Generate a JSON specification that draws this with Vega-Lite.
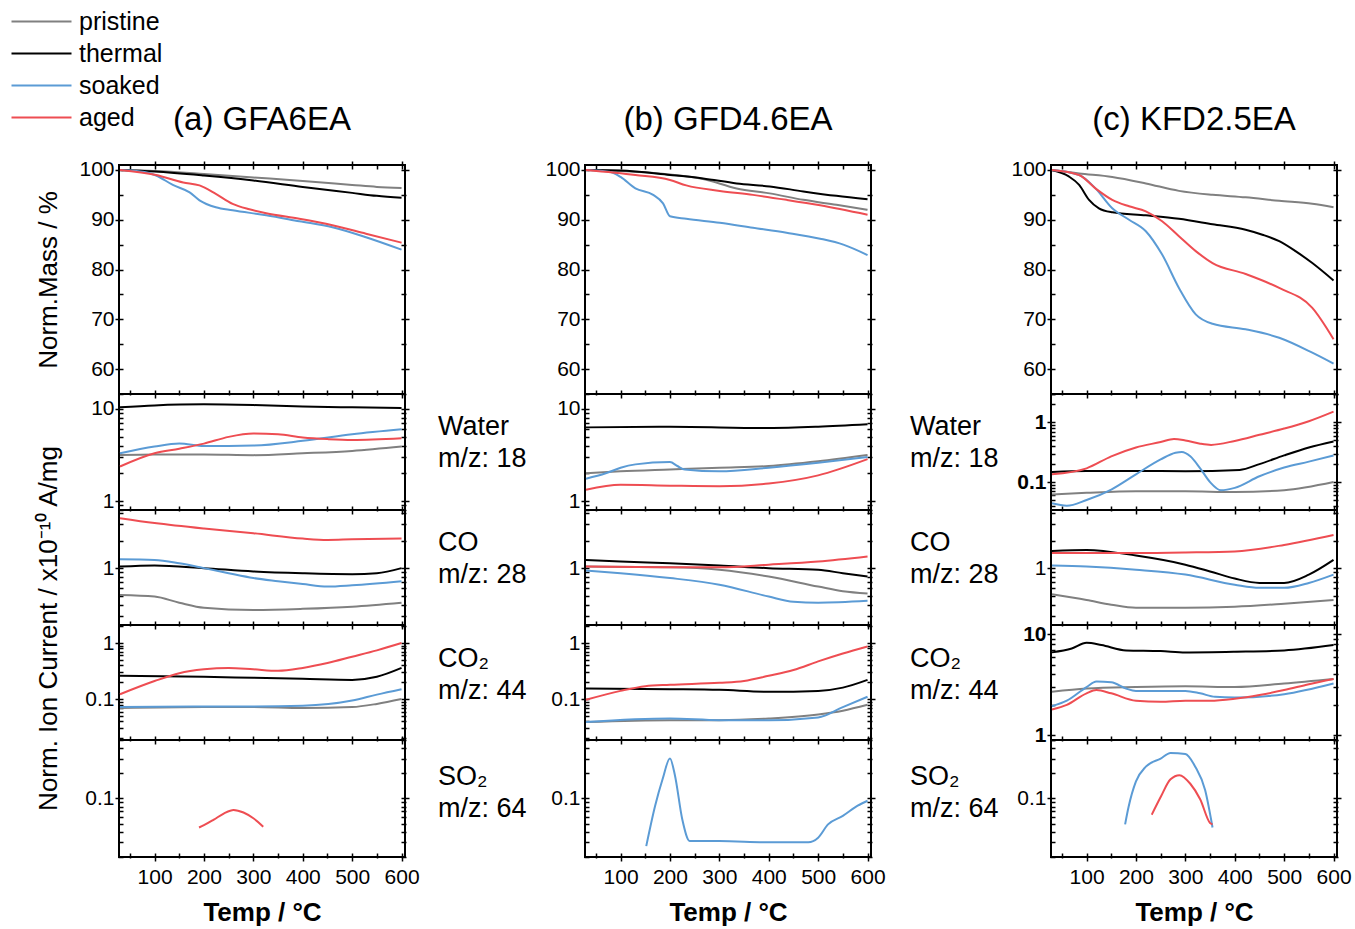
{
"$schema": "https://vega.github.io/schema/vega-lite/v6.json",
"background": "white",
"padding": {"left": 28, "top": 8, "right": 0, "bottom": 0},
"config": {
  "font": "Liberation Sans",
  "view": {"stroke": "black", "strokeWidth": 2},
  "axis": {"grid": false, "domain": false, "tickColor": "black", "tickWidth": 1.5, "labelColor": "black", "labelFontSize": 21, "titleColor": "black", "labelFont": "Liberation Sans", "titleFont": "Liberation Sans"},
  "title": {"font": "Liberation Sans", "color": "black"}
},
"datasets": {
"a_m": [
{"s":"pristine","t":30,"v":100},{"s":"pristine","t":100,"v":99.8},{"s":"pristine","t":200,"v":99.2},{"s":"pristine","t":300,"v":98.5},{"s":"pristine","t":400,"v":97.8},{"s":"pristine","t":500,"v":97.0},{"s":"pristine","t":550,"v":96.6},{"s":"pristine","t":600,"v":96.4},
{"s":"thermal","t":30,"v":100},{"s":"thermal","t":100,"v":99.7},{"s":"thermal","t":200,"v":98.9},{"s":"thermal","t":300,"v":97.9},{"s":"thermal","t":400,"v":96.6},{"s":"thermal","t":500,"v":95.4},{"s":"thermal","t":550,"v":94.8},{"s":"thermal","t":600,"v":94.4},
{"s":"soaked","t":30,"v":100},{"s":"soaked","t":80,"v":99.6},{"s":"soaked","t":103,"v":98.9},{"s":"soaked","t":137,"v":97.0},{"s":"soaked","t":171,"v":95.5},{"s":"soaked","t":191,"v":93.9},{"s":"soaked","t":224,"v":92.5},{"s":"soaked","t":258,"v":91.9},{"s":"soaked","t":326,"v":90.9},{"s":"soaked","t":393,"v":89.7},{"s":"soaked","t":460,"v":88.5},{"s":"soaked","t":528,"v":86.5},{"s":"soaked","t":600,"v":84.0},
{"s":"aged","t":30,"v":100},{"s":"aged","t":103,"v":99.0},{"s":"aged","t":158,"v":97.5},{"s":"aged","t":191,"v":96.9},{"s":"aged","t":224,"v":95.2},{"s":"aged","t":258,"v":93.2},{"s":"aged","t":292,"v":92.1},{"s":"aged","t":326,"v":91.3},{"s":"aged","t":393,"v":90.2},{"s":"aged","t":460,"v":88.9},{"s":"aged","t":528,"v":87.2},{"s":"aged","t":600,"v":85.4}
],
"b_m": [
{"s":"pristine","t":30,"v":100},{"s":"pristine","t":100,"v":99.8},{"s":"pristine","t":200,"v":99.1},{"s":"pristine","t":267,"v":98.2},{"s":"pristine","t":335,"v":96.3},{"s":"pristine","t":402,"v":95.3},{"s":"pristine","t":470,"v":94.0},{"s":"pristine","t":537,"v":93.0},{"s":"pristine","t":600,"v":92.0},
{"s":"thermal","t":30,"v":100},{"s":"thermal","t":99,"v":99.9},{"s":"thermal","t":200,"v":99.0},{"s":"thermal","t":267,"v":98.3},{"s":"thermal","t":335,"v":97.3},{"s":"thermal","t":402,"v":96.7},{"s":"thermal","t":470,"v":95.7},{"s":"thermal","t":537,"v":94.8},{"s":"thermal","t":600,"v":94.1},
{"s":"soaked","t":30,"v":100},{"s":"soaked","t":80,"v":99.6},{"s":"soaked","t":100,"v":98.6},{"s":"soaked","t":130,"v":96.3},{"s":"soaked","t":166,"v":95.0},{"s":"soaked","t":186,"v":93.3},{"s":"soaked","t":200,"v":90.7},{"s":"soaked","t":233,"v":90.2},{"s":"soaked","t":301,"v":89.4},{"s":"soaked","t":368,"v":88.4},{"s":"soaked","t":436,"v":87.4},{"s":"soaked","t":504,"v":86.2},{"s":"soaked","t":551,"v":85.0},{"s":"soaked","t":600,"v":82.9},
{"s":"aged","t":30,"v":100},{"s":"aged","t":130,"v":99.0},{"s":"aged","t":200,"v":98.0},{"s":"aged","t":233,"v":96.9},{"s":"aged","t":301,"v":95.8},{"s":"aged","t":368,"v":95.0},{"s":"aged","t":436,"v":94.0},{"s":"aged","t":504,"v":92.9},{"s":"aged","t":600,"v":91.0}
],
"c_m": [
{"s":"pristine","t":30,"v":100},{"s":"pristine","t":85,"v":99.3},{"s":"pristine","t":152,"v":98.6},{"s":"pristine","t":220,"v":97.3},{"s":"pristine","t":287,"v":95.8},{"s":"pristine","t":355,"v":95.0},{"s":"pristine","t":422,"v":94.5},{"s":"pristine","t":490,"v":93.8},{"s":"pristine","t":557,"v":93.2},{"s":"pristine","t":600,"v":92.5},
{"s":"thermal","t":30,"v":100},{"s":"thermal","t":64,"v":98.7},{"s":"thermal","t":85,"v":97.0},{"s":"thermal","t":105,"v":94.0},{"s":"thermal","t":125,"v":92.3},{"s":"thermal","t":152,"v":91.5},{"s":"thermal","t":220,"v":90.9},{"s":"thermal","t":287,"v":90.2},{"s":"thermal","t":355,"v":89.1},{"s":"thermal","t":422,"v":88.0},{"s":"thermal","t":456,"v":87.0},{"s":"thermal","t":490,"v":85.7},{"s":"thermal","t":523,"v":83.7},{"s":"thermal","t":557,"v":81.3},{"s":"thermal","t":600,"v":77.8},
{"s":"soaked","t":30,"v":100},{"s":"soaked","t":85,"v":99.0},{"s":"soaked","t":118,"v":96.3},{"s":"soaked","t":152,"v":92.3},{"s":"soaked","t":186,"v":90.0},{"s":"soaked","t":220,"v":87.7},{"s":"soaked","t":253,"v":83.0},{"s":"soaked","t":287,"v":76.3},{"s":"soaked","t":321,"v":71.0},{"s":"soaked","t":355,"v":69.1},{"s":"soaked","t":422,"v":68.0},{"s":"soaked","t":490,"v":66.3},{"s":"soaked","t":557,"v":63.3},{"s":"soaked","t":600,"v":61.1},
{"s":"aged","t":30,"v":100},{"s":"aged","t":85,"v":99.0},{"s":"aged","t":118,"v":96.3},{"s":"aged","t":152,"v":94.0},{"s":"aged","t":186,"v":92.7},{"s":"aged","t":220,"v":91.7},{"s":"aged","t":253,"v":89.7},{"s":"aged","t":287,"v":86.7},{"s":"aged","t":321,"v":83.7},{"s":"aged","t":355,"v":81.3},{"s":"aged","t":422,"v":79.1},{"s":"aged","t":490,"v":76.3},{"s":"aged","t":557,"v":72.3},{"s":"aged","t":600,"v":66.0}
],
"a_w": [
{"s":"thermal","t":30,"v":10.4},{"s":"thermal","t":100,"v":10.9},{"s":"thermal","t":200,"v":11.2},{"s":"thermal","t":300,"v":11.0},{"s":"thermal","t":400,"v":10.6},{"s":"thermal","t":500,"v":10.4},{"s":"thermal","t":600,"v":10.2},
{"s":"pristine","t":30,"v":3.16},{"s":"pristine","t":100,"v":3.2},{"s":"pristine","t":200,"v":3.2},{"s":"pristine","t":300,"v":3.15},{"s":"pristine","t":400,"v":3.3},{"s":"pristine","t":500,"v":3.5},{"s":"pristine","t":600,"v":3.9},
{"s":"soaked","t":30,"v":3.3},{"s":"soaked","t":100,"v":3.9},{"s":"soaked","t":150,"v":4.2},{"s":"soaked","t":200,"v":3.95},{"s":"soaked","t":300,"v":4.0},{"s":"soaked","t":400,"v":4.5},{"s":"soaked","t":500,"v":5.3},{"s":"soaked","t":600,"v":6.0},
{"s":"aged","t":30,"v":2.37},{"s":"aged","t":100,"v":3.3},{"s":"aged","t":150,"v":3.7},{"s":"aged","t":200,"v":4.2},{"s":"aged","t":250,"v":4.97},{"s":"aged","t":300,"v":5.4},{"s":"aged","t":350,"v":5.3},{"s":"aged","t":400,"v":4.9},{"s":"aged","t":450,"v":4.7},{"s":"aged","t":500,"v":4.6},{"s":"aged","t":600,"v":4.8}
],
"b_w": [
{"s":"thermal","t":30,"v":6.3},{"s":"thermal","t":200,"v":6.4},{"s":"thermal","t":400,"v":6.2},{"s":"thermal","t":500,"v":6.4},{"s":"thermal","t":600,"v":6.8},
{"s":"pristine","t":30,"v":2.0},{"s":"pristine","t":100,"v":2.1},{"s":"pristine","t":200,"v":2.2},{"s":"pristine","t":300,"v":2.3},{"s":"pristine","t":400,"v":2.4},{"s":"pristine","t":500,"v":2.7},{"s":"pristine","t":600,"v":3.16},
{"s":"soaked","t":30,"v":1.75},{"s":"soaked","t":70,"v":2.0},{"s":"soaked","t":100,"v":2.3},{"s":"soaked","t":130,"v":2.5},{"s":"soaked","t":200,"v":2.65},{"s":"soaked","t":215,"v":2.4},{"s":"soaked","t":230,"v":2.2},{"s":"soaked","t":300,"v":2.1},{"s":"soaked","t":400,"v":2.3},{"s":"soaked","t":500,"v":2.6},{"s":"soaked","t":600,"v":3.0},
{"s":"aged","t":30,"v":1.33},{"s":"aged","t":100,"v":1.5},{"s":"aged","t":200,"v":1.47},{"s":"aged","t":300,"v":1.45},{"s":"aged","t":400,"v":1.55},{"s":"aged","t":500,"v":1.9},{"s":"aged","t":600,"v":2.85}
],
"c_w": [
{"s":"thermal","t":30,"v":0.148},{"s":"thermal","t":100,"v":0.154},{"s":"thermal","t":200,"v":0.154},{"s":"thermal","t":300,"v":0.152},{"s":"thermal","t":410,"v":0.16},{"s":"thermal","t":450,"v":0.2},{"s":"thermal","t":500,"v":0.28},{"s":"thermal","t":550,"v":0.38},{"s":"thermal","t":600,"v":0.48},
{"s":"pristine","t":30,"v":0.062},{"s":"pristine","t":100,"v":0.066},{"s":"pristine","t":200,"v":0.07},{"s":"pristine","t":300,"v":0.07},{"s":"pristine","t":400,"v":0.068},{"s":"pristine","t":500,"v":0.073},{"s":"pristine","t":600,"v":0.1},
{"s":"soaked","t":30,"v":0.044},{"s":"soaked","t":60,"v":0.04},{"s":"soaked","t":100,"v":0.05},{"s":"soaked","t":150,"v":0.075},{"s":"soaked","t":200,"v":0.135},{"s":"soaked","t":250,"v":0.24},{"s":"soaked","t":280,"v":0.31},{"s":"soaked","t":293,"v":0.32},{"s":"soaked","t":310,"v":0.27},{"s":"soaked","t":330,"v":0.17},{"s":"soaked","t":350,"v":0.1},{"s":"soaked","t":372,"v":0.073},{"s":"soaked","t":400,"v":0.08},{"s":"soaked","t":450,"v":0.125},{"s":"soaked","t":500,"v":0.175},{"s":"soaked","t":550,"v":0.22},{"s":"soaked","t":600,"v":0.28},
{"s":"aged","t":30,"v":0.135},{"s":"aged","t":100,"v":0.17},{"s":"aged","t":150,"v":0.27},{"s":"aged","t":200,"v":0.38},{"s":"aged","t":250,"v":0.47},{"s":"aged","t":277,"v":0.53},{"s":"aged","t":300,"v":0.5},{"s":"aged","t":330,"v":0.44},{"s":"aged","t":352,"v":0.42},{"s":"aged","t":400,"v":0.49},{"s":"aged","t":450,"v":0.62},{"s":"aged","t":500,"v":0.79},{"s":"aged","t":550,"v":1.05},{"s":"aged","t":600,"v":1.52}
],
"a_co": [
{"s":"aged","t":30,"v":3.5},{"s":"aged","t":100,"v":3.1},{"s":"aged","t":200,"v":2.7},{"s":"aged","t":300,"v":2.4},{"s":"aged","t":400,"v":2.1},{"s":"aged","t":450,"v":2.03},{"s":"aged","t":500,"v":2.06},{"s":"aged","t":600,"v":2.1},
{"s":"soaked","t":30,"v":1.25},{"s":"soaked","t":100,"v":1.23},{"s":"soaked","t":150,"v":1.13},{"s":"soaked","t":200,"v":1.0},{"s":"soaked","t":250,"v":0.88},{"s":"soaked","t":300,"v":0.78},{"s":"soaked","t":350,"v":0.72},{"s":"soaked","t":400,"v":0.67},{"s":"soaked","t":450,"v":0.63},{"s":"soaked","t":500,"v":0.65},{"s":"soaked","t":600,"v":0.72},
{"s":"thermal","t":30,"v":1.04},{"s":"thermal","t":100,"v":1.07},{"s":"thermal","t":200,"v":1.0},{"s":"thermal","t":300,"v":0.92},{"s":"thermal","t":400,"v":0.88},{"s":"thermal","t":500,"v":0.86},{"s":"thermal","t":550,"v":0.88},{"s":"thermal","t":600,"v":1.0},
{"s":"pristine","t":30,"v":0.51},{"s":"pristine","t":100,"v":0.49},{"s":"pristine","t":150,"v":0.42},{"s":"pristine","t":200,"v":0.37},{"s":"pristine","t":300,"v":0.35},{"s":"pristine","t":400,"v":0.36},{"s":"pristine","t":500,"v":0.38},{"s":"pristine","t":600,"v":0.42}
],
"b_co": [
{"s":"thermal","t":30,"v":1.23},{"s":"thermal","t":100,"v":1.18},{"s":"thermal","t":200,"v":1.13},{"s":"thermal","t":300,"v":1.07},{"s":"thermal","t":400,"v":1.0},{"s":"thermal","t":500,"v":0.96},{"s":"thermal","t":550,"v":0.88},{"s":"thermal","t":600,"v":0.81},
{"s":"aged","t":30,"v":1.04},{"s":"aged","t":200,"v":1.02},{"s":"aged","t":300,"v":1.02},{"s":"aged","t":400,"v":1.09},{"s":"aged","t":500,"v":1.18},{"s":"aged","t":600,"v":1.34},
{"s":"pristine","t":30,"v":1.04},{"s":"pristine","t":200,"v":1.02},{"s":"pristine","t":300,"v":0.96},{"s":"pristine","t":400,"v":0.81},{"s":"pristine","t":500,"v":0.63},{"s":"pristine","t":550,"v":0.56},{"s":"pristine","t":600,"v":0.53},
{"s":"soaked","t":30,"v":0.94},{"s":"soaked","t":100,"v":0.88},{"s":"soaked","t":200,"v":0.78},{"s":"soaked","t":300,"v":0.66},{"s":"soaked","t":400,"v":0.49},{"s":"soaked","t":450,"v":0.43},{"s":"soaked","t":500,"v":0.42},{"s":"soaked","t":600,"v":0.44}
],
"c_co": [
{"s":"aged","t":30,"v":1.46},{"s":"aged","t":200,"v":1.46},{"s":"aged","t":300,"v":1.48},{"s":"aged","t":400,"v":1.52},{"s":"aged","t":500,"v":1.79},{"s":"aged","t":600,"v":2.3},
{"s":"thermal","t":30,"v":1.54},{"s":"thermal","t":100,"v":1.58},{"s":"thermal","t":200,"v":1.37},{"s":"thermal","t":300,"v":1.09},{"s":"thermal","t":350,"v":0.92},{"s":"thermal","t":400,"v":0.77},{"s":"thermal","t":450,"v":0.69},{"s":"thermal","t":500,"v":0.69},{"s":"thermal","t":550,"v":0.85},{"s":"thermal","t":600,"v":1.23},
{"s":"soaked","t":30,"v":1.07},{"s":"soaked","t":100,"v":1.04},{"s":"soaked","t":200,"v":0.96},{"s":"soaked","t":300,"v":0.85},{"s":"soaked","t":400,"v":0.66},{"s":"soaked","t":450,"v":0.61},{"s":"soaked","t":500,"v":0.61},{"s":"soaked","t":550,"v":0.69},{"s":"soaked","t":600,"v":0.85},
{"s":"pristine","t":30,"v":0.52},{"s":"pristine","t":100,"v":0.45},{"s":"pristine","t":150,"v":0.4},{"s":"pristine","t":200,"v":0.37},{"s":"pristine","t":300,"v":0.37},{"s":"pristine","t":400,"v":0.38},{"s":"pristine","t":500,"v":0.41},{"s":"pristine","t":600,"v":0.45}
],
"a_co2": [
{"s":"aged","t":30,"v":0.122},{"s":"aged","t":100,"v":0.21},{"s":"aged","t":150,"v":0.29},{"s":"aged","t":200,"v":0.34},{"s":"aged","t":250,"v":0.36},{"s":"aged","t":300,"v":0.34},{"s":"aged","t":350,"v":0.32},{"s":"aged","t":400,"v":0.36},{"s":"aged","t":450,"v":0.44},{"s":"aged","t":500,"v":0.57},{"s":"aged","t":550,"v":0.74},{"s":"aged","t":600,"v":1.0},
{"s":"thermal","t":30,"v":0.26},{"s":"thermal","t":200,"v":0.25},{"s":"thermal","t":300,"v":0.24},{"s":"thermal","t":400,"v":0.23},{"s":"thermal","t":500,"v":0.22},{"s":"thermal","t":550,"v":0.25},{"s":"thermal","t":600,"v":0.36},
{"s":"soaked","t":30,"v":0.072},{"s":"soaked","t":200,"v":0.074},{"s":"soaked","t":300,"v":0.074},{"s":"soaked","t":400,"v":0.076},{"s":"soaked","t":500,"v":0.094},{"s":"soaked","t":550,"v":0.12},{"s":"soaked","t":600,"v":0.15},
{"s":"pristine","t":30,"v":0.069},{"s":"pristine","t":200,"v":0.072},{"s":"pristine","t":300,"v":0.072},{"s":"pristine","t":400,"v":0.069},{"s":"pristine","t":500,"v":0.072},{"s":"pristine","t":550,"v":0.082},{"s":"pristine","t":600,"v":0.1}
],
"b_co2": [
{"s":"aged","t":30,"v":0.097},{"s":"aged","t":100,"v":0.14},{"s":"aged","t":150,"v":0.17},{"s":"aged","t":200,"v":0.18},{"s":"aged","t":300,"v":0.195},{"s":"aged","t":350,"v":0.21},{"s":"aged","t":400,"v":0.26},{"s":"aged","t":450,"v":0.33},{"s":"aged","t":500,"v":0.47},{"s":"aged","t":550,"v":0.65},{"s":"aged","t":600,"v":0.87},
{"s":"thermal","t":30,"v":0.154},{"s":"thermal","t":200,"v":0.15},{"s":"thermal","t":300,"v":0.146},{"s":"thermal","t":400,"v":0.135},{"s":"thermal","t":500,"v":0.14},{"s":"thermal","t":550,"v":0.16},{"s":"thermal","t":600,"v":0.22},
{"s":"pristine","t":30,"v":0.039},{"s":"pristine","t":200,"v":0.042},{"s":"pristine","t":300,"v":0.042},{"s":"pristine","t":400,"v":0.045},{"s":"pristine","t":500,"v":0.053},{"s":"pristine","t":550,"v":0.062},{"s":"pristine","t":600,"v":0.079},
{"s":"soaked","t":30,"v":0.039},{"s":"soaked","t":200,"v":0.045},{"s":"soaked","t":300,"v":0.042},{"s":"soaked","t":400,"v":0.042},{"s":"soaked","t":500,"v":0.047},{"s":"soaked","t":550,"v":0.072},{"s":"soaked","t":600,"v":0.11}
],
"c_co2": [
{"s":"thermal","t":30,"v":6.6},{"s":"thermal","t":70,"v":7.2},{"s":"thermal","t":100,"v":8.2},{"s":"thermal","t":130,"v":7.8},{"s":"thermal","t":180,"v":6.9},{"s":"thermal","t":250,"v":6.8},{"s":"thermal","t":300,"v":6.6},{"s":"thermal","t":400,"v":6.7},{"s":"thermal","t":500,"v":6.9},{"s":"thermal","t":600,"v":7.8},
{"s":"pristine","t":30,"v":2.7},{"s":"pristine","t":100,"v":2.9},{"s":"pristine","t":200,"v":3.0},{"s":"pristine","t":300,"v":3.05},{"s":"pristine","t":400,"v":3.0},{"s":"pristine","t":500,"v":3.25},{"s":"pristine","t":600,"v":3.6},
{"s":"soaked","t":30,"v":1.94},{"s":"soaked","t":60,"v":2.2},{"s":"soaked","t":100,"v":3.0},{"s":"soaked","t":120,"v":3.4},{"s":"soaked","t":150,"v":3.35},{"s":"soaked","t":180,"v":2.9},{"s":"soaked","t":200,"v":2.75},{"s":"soaked","t":250,"v":2.75},{"s":"soaked","t":300,"v":2.75},{"s":"soaked","t":330,"v":2.6},{"s":"soaked","t":360,"v":2.4},{"s":"soaked","t":400,"v":2.36},{"s":"soaked","t":500,"v":2.55},{"s":"soaked","t":600,"v":3.25},
{"s":"aged","t":30,"v":1.8},{"s":"aged","t":60,"v":2.0},{"s":"aged","t":100,"v":2.6},{"s":"aged","t":120,"v":2.8},{"s":"aged","t":150,"v":2.6},{"s":"aged","t":200,"v":2.2},{"s":"aged","t":250,"v":2.15},{"s":"aged","t":300,"v":2.2},{"s":"aged","t":350,"v":2.2},{"s":"aged","t":400,"v":2.3},{"s":"aged","t":450,"v":2.5},{"s":"aged","t":500,"v":2.8},{"s":"aged","t":550,"v":3.2},{"s":"aged","t":600,"v":3.6}
],
"a_so2": [
{"s":"aged","t":190,"v":0.045},{"s":"aged","t":200,"v":0.048},{"s":"aged","t":220,"v":0.056},{"s":"aged","t":240,"v":0.066},{"s":"aged","t":260,"v":0.073},{"s":"aged","t":280,"v":0.068},{"s":"aged","t":300,"v":0.058},{"s":"aged","t":320,"v":0.046}
],
"b_so2": [
{"s":"soaked","t":152,"v":0.027},{"s":"soaked","t":170,"v":0.082},{"s":"soaked","t":185,"v":0.17},{"s":"soaked","t":200,"v":0.3},{"s":"soaked","t":210,"v":0.19},{"s":"soaked","t":225,"v":0.056},{"s":"soaked","t":240,"v":0.031},{"s":"soaked","t":300,"v":0.031},{"s":"soaked","t":400,"v":0.03},{"s":"soaked","t":480,"v":0.03},{"s":"soaked","t":500,"v":0.034},{"s":"soaked","t":520,"v":0.049},{"s":"soaked","t":550,"v":0.062},{"s":"soaked","t":580,"v":0.082},{"s":"soaked","t":600,"v":0.094}
],
"c_so2": [
{"s":"soaked","t":178,"v":0.049},{"s":"soaked","t":185,"v":0.079},{"s":"soaked","t":200,"v":0.16},{"s":"soaked","t":220,"v":0.24},{"s":"soaked","t":250,"v":0.3},{"s":"soaked","t":270,"v":0.35},{"s":"soaked","t":300,"v":0.34},{"s":"soaked","t":320,"v":0.24},{"s":"soaked","t":340,"v":0.126},{"s":"soaked","t":355,"v":0.045},
{"s":"aged","t":232,"v":0.064},{"s":"aged","t":250,"v":0.104},{"s":"aged","t":270,"v":0.17},{"s":"aged","t":288,"v":0.19},{"s":"aged","t":310,"v":0.15},{"s":"aged","t":330,"v":0.098},{"s":"aged","t":350,"v":0.051},{"s":"aged","t":355,"v":0.049}
]
},
"columns": 3,
"spacing": {"row": 0, "column": 180},
"bounds": "flush",
"resolve": {"scale": {"x": "independent", "y": "independent", "color": "independent"}, "legend": {"color": "independent"}},
"concat": [
{"width": 286, "height": 229, "data": {"name": "a_m"},
 "title": {"text": "(a) GFA6EA", "fontSize": 33, "fontWeight": "normal", "frame": "group", "anchor": "middle", "baseline": "alphabetic", "offset": -4},
 "layer": [
  {"transform": [{"filter": "datum.s=='pristine'||datum.s=='thermal'"}], "mark": {"type": "line", "strokeWidth": 2, "interpolate": "monotone"},
   "encoding": {
    "x": {"field": "t", "type": "quantitative", "scale": {"domain": [28, 607], "nice": false, "zero": false}, "axis": {"orient": "bottom", "values": [50,100,150,200,250,300,350,400,450,500,550,600], "labels": false, "title": null, "offset": -4, "tickSize": {"condition": {"test": "datum.value % 100 == 0", "value": 8}, "value": 5}}},
    "y": {"field": "v", "type": "quantitative", "scale": {"domain": [55, 101], "nice": false, "zero": false}, "axis": {"orient": "left", "values": [55,60,65,70,75,80,85,90,95,100], "format": "d", "labelExpr": "datum.value % 10 == 0 ? datum.label : ''", "labelPadding": 1, "offset": -4, "tickSize": {"condition": {"test": "datum.value % 10 == 0", "value": 8}, "value": 5}, "title": "Norm.Mass / %", "titleFontSize": 26, "titleFontWeight": "normal", "titleX": -75, "titleBaseline": "middle"}},
    "color": {"field": "s", "type": "nominal", "scale": {"domain": ["pristine","thermal","soaked","aged"], "range": ["#808080","#000000","#5b9bd5","#ee4d52"]}, "legend": null}}},
  {"transform": [{"filter": "datum.s=='soaked'||datum.s=='aged'"}], "mark": {"type": "line", "strokeWidth": 2, "interpolate": "monotone"},
   "encoding": {
    "x": {"field": "t", "type": "quantitative", "axis": {"orient": "top", "values": [50,100,150,200,250,300,350,400,450,500,550,600], "labels": false, "title": null, "offset": -4, "tickSize": {"condition": {"test": "datum.value % 100 == 0", "value": 8}, "value": 5}}},
    "y": {"field": "v", "type": "quantitative", "axis": {"orient": "right", "values": [55,60,65,70,75,80,85,90,95,100], "labels": false, "title": null, "offset": -4, "tickSize": {"condition": {"test": "datum.value % 10 == 0", "value": 8}, "value": 5}}},
    "color": {"field": "s", "type": "nominal", "scale": {"domain": ["pristine","thermal","soaked","aged"], "range": ["#808080","#000000","#5b9bd5","#ee4d52"]}, "legend": null}}}
 ],
 "resolve": {"axis": {"x": "independent", "y": "independent"}}},
{"width": 286, "height": 229, "data": {"name": "b_m"},
 "title": {"text": "(b) GFD4.6EA", "fontSize": 33, "fontWeight": "normal", "frame": "group", "anchor": "middle", "baseline": "alphabetic", "offset": -4},
 "layer": [
  {"transform": [{"filter": "datum.s=='pristine'||datum.s=='thermal'"}], "mark": {"type": "line", "strokeWidth": 2, "interpolate": "monotone"},
   "encoding": {
    "x": {"field": "t", "type": "quantitative", "scale": {"domain": [28, 607], "nice": false, "zero": false}, "axis": {"orient": "bottom", "values": [50,100,150,200,250,300,350,400,450,500,550,600], "labels": false, "title": null, "offset": -4, "tickSize": {"condition": {"test": "datum.value % 100 == 0", "value": 8}, "value": 5}}},
    "y": {"field": "v", "type": "quantitative", "scale": {"domain": [55, 101], "nice": false, "zero": false}, "axis": {"orient": "left", "values": [55,60,65,70,75,80,85,90,95,100], "format": "d", "labelExpr": "datum.value % 10 == 0 ? datum.label : ''", "labelPadding": 1, "offset": -4, "tickSize": {"condition": {"test": "datum.value % 10 == 0", "value": 8}, "value": 5}, "title": null}},
    "color": {"field": "s", "type": "nominal", "scale": {"domain": ["pristine","thermal","soaked","aged"], "range": ["#808080","#000000","#5b9bd5","#ee4d52"]}, "legend": null}}},
  {"transform": [{"filter": "datum.s=='soaked'||datum.s=='aged'"}], "mark": {"type": "line", "strokeWidth": 2, "interpolate": "monotone"},
   "encoding": {
    "x": {"field": "t", "type": "quantitative", "axis": {"orient": "top", "values": [50,100,150,200,250,300,350,400,450,500,550,600], "labels": false, "title": null, "offset": -4, "tickSize": {"condition": {"test": "datum.value % 100 == 0", "value": 8}, "value": 5}}},
    "y": {"field": "v", "type": "quantitative", "axis": {"orient": "right", "values": [55,60,65,70,75,80,85,90,95,100], "labels": false, "title": null, "offset": -4, "tickSize": {"condition": {"test": "datum.value % 10 == 0", "value": 8}, "value": 5}}},
    "color": {"field": "s", "type": "nominal", "scale": {"domain": ["pristine","thermal","soaked","aged"], "range": ["#808080","#000000","#5b9bd5","#ee4d52"]}, "legend": null}}}
 ],
 "resolve": {"axis": {"x": "independent", "y": "independent"}}},
{"width": 286, "height": 229, "data": {"name": "c_m"},
 "title": {"text": "(c) KFD2.5EA", "fontSize": 33, "fontWeight": "normal", "frame": "group", "anchor": "middle", "baseline": "alphabetic", "offset": -4},
 "layer": [
  {"transform": [{"filter": "datum.s=='pristine'||datum.s=='thermal'"}], "mark": {"type": "line", "strokeWidth": 2, "interpolate": "monotone"},
   "encoding": {
    "x": {"field": "t", "type": "quantitative", "scale": {"domain": [28, 607], "nice": false, "zero": false}, "axis": {"orient": "bottom", "values": [50,100,150,200,250,300,350,400,450,500,550,600], "labels": false, "title": null, "offset": -4, "tickSize": {"condition": {"test": "datum.value % 100 == 0", "value": 8}, "value": 5}}},
    "y": {"field": "v", "type": "quantitative", "scale": {"domain": [55, 101], "nice": false, "zero": false}, "axis": {"orient": "left", "values": [55,60,65,70,75,80,85,90,95,100], "format": "d", "labelExpr": "datum.value % 10 == 0 ? datum.label : ''", "labelPadding": 1, "offset": -4, "tickSize": {"condition": {"test": "datum.value % 10 == 0", "value": 8}, "value": 5}, "title": null}},
    "color": {"field": "s", "type": "nominal", "scale": {"domain": ["pristine","thermal","soaked","aged"], "range": ["#808080","#000000","#5b9bd5","#ee4d52"]}, "legend": null}}},
  {"transform": [{"filter": "datum.s=='soaked'||datum.s=='aged'"}], "mark": {"type": "line", "strokeWidth": 2, "interpolate": "monotone"},
   "encoding": {
    "x": {"field": "t", "type": "quantitative", "axis": {"orient": "top", "values": [50,100,150,200,250,300,350,400,450,500,550,600], "labels": false, "title": null, "offset": -4, "tickSize": {"condition": {"test": "datum.value % 100 == 0", "value": 8}, "value": 5}}},
    "y": {"field": "v", "type": "quantitative", "axis": {"orient": "right", "values": [55,60,65,70,75,80,85,90,95,100], "labels": false, "title": null, "offset": -4, "tickSize": {"condition": {"test": "datum.value % 10 == 0", "value": 8}, "value": 5}}},
    "color": {"field": "s", "type": "nominal", "scale": {"domain": ["pristine","thermal","soaked","aged"], "range": ["#808080","#000000","#5b9bd5","#ee4d52"]}, "legend": null}}}
 ],
 "resolve": {"axis": {"x": "independent", "y": "independent"}}},

{"width": 286, "height": 116, "data": {"name": "a_w"},
 "layer": [
  {"transform": [{"filter": "datum.s=='pristine'||datum.s=='thermal'"}], "mark": {"type": "line", "strokeWidth": 2, "interpolate": "monotone"},
   "encoding": {
    "x": {"field": "t", "type": "quantitative", "scale": {"domain": [28, 607], "nice": false, "zero": false}, "axis": {"orient": "bottom", "values": [50,100,150,200,250,300,350,400,450,500,550,600], "labels": false, "title": null, "offset": -4, "tickSize": {"condition": {"test": "datum.value % 100 == 0", "value": 8}, "value": 5}}},
    "y": {"field": "v", "type": "quantitative", "scale": {"type": "log", "domain": [0.8, 14.5], "nice": false}, "axis": {"orient": "left", "values": [0.8,0.9,1,2,3,4,5,6,7,8,9,10], "format": "~g", "labelExpr": "indexof([0.01,0.1,1,10], datum.value) >= 0 ? datum.label : ''", "labelPadding": 1, "offset": -4, "tickSize": {"condition": {"test": "indexof([0.01,0.1,1,10], datum.value) >= 0", "value": 8}, "value": 5}, "title": null}},
    "color": {"field": "s", "type": "nominal", "scale": {"domain": ["pristine","thermal","soaked","aged"], "range": ["#808080","#000000","#5b9bd5","#ee4d52"]}, "legend": {"orient": "none", "legendX": -90, "legendY": -385, "title": null, "symbolType": "M-3,0L3,0", "symbolSize": 400, "symbolStrokeWidth": 2, "labelFontSize": 25, "labelOffset": 25, "rowPadding": 6, "labelColor": "black", "padding": 0}}}},
  {"transform": [{"filter": "datum.s=='soaked'||datum.s=='aged'"}], "mark": {"type": "line", "strokeWidth": 2, "interpolate": "monotone"},
   "encoding": {
    "x": {"field": "t", "type": "quantitative", "axis": null},
    "y": {"field": "v", "type": "quantitative", "axis": {"orient": "right", "values": [0.8,0.9,1,2,3,4,5,6,7,8,9,10], "labels": false, "title": null, "offset": -4, "tickSize": {"condition": {"test": "indexof([0.01,0.1,1,10], datum.value) >= 0", "value": 8}, "value": 5}}},
    "color": {"field": "s", "type": "nominal", "scale": {"domain": ["pristine","thermal","soaked","aged"], "range": ["#808080","#000000","#5b9bd5","#ee4d52"]}, "legend": {"orient": "none", "legendX": -90, "legendY": -385, "title": null, "symbolType": "M-3,0L3,0", "symbolSize": 400, "symbolStrokeWidth": 2, "labelFontSize": 25, "labelOffset": 25, "rowPadding": 6, "labelColor": "black", "padding": 0}}}},
  {"data": {"values": [{}]}, "mark": {"type": "text", "align": "left", "baseline": "middle", "fontSize": 27, "lineBreak": "\n", "lineHeight": 32, "clip": false, "color": "black"},
   "encoding": {"x": {"datum": 674, "type": "quantitative", "axis": null}, "y": {"datum": 6.35, "type": "quantitative", "axis": null}, "text": {"value": "Water\nm/z: 18"}}}
 ],
 "resolve": {"axis": {"x": "independent", "y": "independent"}}},
{"width": 286, "height": 116, "data": {"name": "b_w"},
 "layer": [
  {"transform": [{"filter": "datum.s=='pristine'||datum.s=='thermal'"}], "mark": {"type": "line", "strokeWidth": 2, "interpolate": "monotone"},
   "encoding": {
    "x": {"field": "t", "type": "quantitative", "scale": {"domain": [28, 607], "nice": false, "zero": false}, "axis": {"orient": "bottom", "values": [50,100,150,200,250,300,350,400,450,500,550,600], "labels": false, "title": null, "offset": -4, "tickSize": {"condition": {"test": "datum.value % 100 == 0", "value": 8}, "value": 5}}},
    "y": {"field": "v", "type": "quantitative", "scale": {"type": "log", "domain": [0.8, 14.5], "nice": false}, "axis": {"orient": "left", "values": [0.8,0.9,1,2,3,4,5,6,7,8,9,10], "format": "~g", "labelExpr": "indexof([0.01,0.1,1,10], datum.value) >= 0 ? datum.label : ''", "labelPadding": 1, "offset": -4, "tickSize": {"condition": {"test": "indexof([0.01,0.1,1,10], datum.value) >= 0", "value": 8}, "value": 5}, "title": null}},
    "color": {"field": "s", "type": "nominal", "scale": {"domain": ["pristine","thermal","soaked","aged"], "range": ["#808080","#000000","#5b9bd5","#ee4d52"]}, "legend": null}}},
  {"transform": [{"filter": "datum.s=='soaked'||datum.s=='aged'"}], "mark": {"type": "line", "strokeWidth": 2, "interpolate": "monotone"},
   "encoding": {
    "x": {"field": "t", "type": "quantitative", "axis": null},
    "y": {"field": "v", "type": "quantitative", "axis": {"orient": "right", "values": [0.8,0.9,1,2,3,4,5,6,7,8,9,10], "labels": false, "title": null, "offset": -4, "tickSize": {"condition": {"test": "indexof([0.01,0.1,1,10], datum.value) >= 0", "value": 8}, "value": 5}}},
    "color": {"field": "s", "type": "nominal", "scale": {"domain": ["pristine","thermal","soaked","aged"], "range": ["#808080","#000000","#5b9bd5","#ee4d52"]}, "legend": null}}},
  {"data": {"values": [{}]}, "mark": {"type": "text", "align": "left", "baseline": "middle", "fontSize": 27, "lineBreak": "\n", "lineHeight": 32, "clip": false, "color": "black"},
   "encoding": {"x": {"datum": 686, "type": "quantitative", "axis": null}, "y": {"datum": 6.35, "type": "quantitative", "axis": null}, "text": {"value": "Water\nm/z: 18"}}}
 ],
 "resolve": {"axis": {"x": "independent", "y": "independent"}}},
{"width": 286, "height": 116, "data": {"name": "c_w"},
 "layer": [
  {"transform": [{"filter": "datum.s=='pristine'||datum.s=='thermal'"}], "mark": {"type": "line", "strokeWidth": 2, "interpolate": "monotone"},
   "encoding": {
    "x": {"field": "t", "type": "quantitative", "scale": {"domain": [28, 607], "nice": false, "zero": false}, "axis": {"orient": "bottom", "values": [50,100,150,200,250,300,350,400,450,500,550,600], "labels": false, "title": null, "offset": -4, "tickSize": {"condition": {"test": "datum.value % 100 == 0", "value": 8}, "value": 5}}},
    "y": {"field": "v", "type": "quantitative", "scale": {"type": "log", "domain": [0.034, 3.0], "nice": false}, "axis": {"orient": "left", "values": [0.04,0.05,0.06,0.07,0.08,0.09,0.1,0.2,0.3,0.4,0.5,0.6,0.7,0.8,0.9,1,2,3], "format": "~g", "labelExpr": "indexof([0.01,0.1,1,10], datum.value) >= 0 ? datum.label : ''", "labelFontWeight": "bold", "labelPadding": 1, "offset": -4, "tickSize": {"condition": {"test": "indexof([0.01,0.1,1,10], datum.value) >= 0", "value": 8}, "value": 5}, "title": null}},
    "color": {"field": "s", "type": "nominal", "scale": {"domain": ["pristine","thermal","soaked","aged"], "range": ["#808080","#000000","#5b9bd5","#ee4d52"]}, "legend": null}}},
  {"transform": [{"filter": "datum.s=='soaked'||datum.s=='aged'"}], "mark": {"type": "line", "strokeWidth": 2, "interpolate": "monotone"},
   "encoding": {
    "x": {"field": "t", "type": "quantitative", "axis": null},
    "y": {"field": "v", "type": "quantitative", "axis": {"orient": "right", "values": [0.04,0.05,0.06,0.07,0.08,0.09,0.1,0.2,0.3,0.4,0.5,0.6,0.7,0.8,0.9,1,2,3], "labels": false, "title": null, "offset": -4, "tickSize": {"condition": {"test": "indexof([0.01,0.1,1,10], datum.value) >= 0", "value": 8}, "value": 5}}},
    "color": {"field": "s", "type": "nominal", "scale": {"domain": ["pristine","thermal","soaked","aged"], "range": ["#808080","#000000","#5b9bd5","#ee4d52"]}, "legend": null}}}
 ],
 "resolve": {"axis": {"x": "independent", "y": "independent"}}},

{"width": 286, "height": 115, "data": {"name": "a_co"},
 "layer": [
  {"transform": [{"filter": "datum.s=='pristine'||datum.s=='thermal'"}], "mark": {"type": "line", "strokeWidth": 2, "interpolate": "monotone"},
   "encoding": {
    "x": {"field": "t", "type": "quantitative", "scale": {"domain": [28, 607], "nice": false, "zero": false}, "axis": {"orient": "bottom", "values": [50,100,150,200,250,300,350,400,450,500,550,600], "labels": false, "title": null, "offset": -4, "tickSize": {"condition": {"test": "datum.value % 100 == 0", "value": 8}, "value": 5}}},
    "y": {"field": "v", "type": "quantitative", "scale": {"type": "log", "domain": [0.24, 4.3], "nice": false}, "axis": {"orient": "left", "values": [0.3,0.4,0.5,0.6,0.7,0.8,0.9,1,2,3,4], "format": "~g", "labelExpr": "indexof([0.01,0.1,1,10], datum.value) >= 0 ? datum.label : ''", "labelPadding": 1, "offset": -4, "tickSize": {"condition": {"test": "indexof([0.01,0.1,1,10], datum.value) >= 0", "value": 8}, "value": 5}, "title": "Norm. Ion Current / x10⁻¹⁰ A/mg", "titleFontSize": 26, "titleFontWeight": "normal", "titleX": -75, "titleY": 118, "titleBaseline": "middle"}},
    "color": {"field": "s", "type": "nominal", "scale": {"domain": ["pristine","thermal","soaked","aged"], "range": ["#808080","#000000","#5b9bd5","#ee4d52"]}, "legend": null}}},
  {"transform": [{"filter": "datum.s=='soaked'||datum.s=='aged'"}], "mark": {"type": "line", "strokeWidth": 2, "interpolate": "monotone"},
   "encoding": {
    "x": {"field": "t", "type": "quantitative", "axis": null},
    "y": {"field": "v", "type": "quantitative", "axis": {"orient": "right", "values": [0.3,0.4,0.5,0.6,0.7,0.8,0.9,1,2,3,4], "labels": false, "title": null, "offset": -4, "tickSize": {"condition": {"test": "indexof([0.01,0.1,1,10], datum.value) >= 0", "value": 8}, "value": 5}}},
    "color": {"field": "s", "type": "nominal", "scale": {"domain": ["pristine","thermal","soaked","aged"], "range": ["#808080","#000000","#5b9bd5","#ee4d52"]}, "legend": null}}},
  {"data": {"values": [{}]}, "mark": {"type": "text", "align": "left", "baseline": "middle", "fontSize": 27, "lineBreak": "\n", "lineHeight": 32, "clip": false, "color": "black"},
   "encoding": {"x": {"datum": 674, "type": "quantitative", "axis": null}, "y": {"datum": 1.88, "type": "quantitative", "axis": null}, "text": {"value": "CO\nm/z: 28"}}}
 ],
 "resolve": {"axis": {"x": "independent", "y": "independent"}}},
{"width": 286, "height": 115, "data": {"name": "b_co"},
 "layer": [
  {"transform": [{"filter": "datum.s=='pristine'||datum.s=='thermal'"}], "mark": {"type": "line", "strokeWidth": 2, "interpolate": "monotone"},
   "encoding": {
    "x": {"field": "t", "type": "quantitative", "scale": {"domain": [28, 607], "nice": false, "zero": false}, "axis": {"orient": "bottom", "values": [50,100,150,200,250,300,350,400,450,500,550,600], "labels": false, "title": null, "offset": -4, "tickSize": {"condition": {"test": "datum.value % 100 == 0", "value": 8}, "value": 5}}},
    "y": {"field": "v", "type": "quantitative", "scale": {"type": "log", "domain": [0.24, 4.3], "nice": false}, "axis": {"orient": "left", "values": [0.3,0.4,0.5,0.6,0.7,0.8,0.9,1,2,3,4], "format": "~g", "labelExpr": "indexof([0.01,0.1,1,10], datum.value) >= 0 ? datum.label : ''", "labelPadding": 1, "offset": -4, "tickSize": {"condition": {"test": "indexof([0.01,0.1,1,10], datum.value) >= 0", "value": 8}, "value": 5}, "title": null}},
    "color": {"field": "s", "type": "nominal", "scale": {"domain": ["pristine","thermal","soaked","aged"], "range": ["#808080","#000000","#5b9bd5","#ee4d52"]}, "legend": null}}},
  {"transform": [{"filter": "datum.s=='soaked'||datum.s=='aged'"}], "mark": {"type": "line", "strokeWidth": 2, "interpolate": "monotone"},
   "encoding": {
    "x": {"field": "t", "type": "quantitative", "axis": null},
    "y": {"field": "v", "type": "quantitative", "axis": {"orient": "right", "values": [0.3,0.4,0.5,0.6,0.7,0.8,0.9,1,2,3,4], "labels": false, "title": null, "offset": -4, "tickSize": {"condition": {"test": "indexof([0.01,0.1,1,10], datum.value) >= 0", "value": 8}, "value": 5}}},
    "color": {"field": "s", "type": "nominal", "scale": {"domain": ["pristine","thermal","soaked","aged"], "range": ["#808080","#000000","#5b9bd5","#ee4d52"]}, "legend": null}}},
  {"data": {"values": [{}]}, "mark": {"type": "text", "align": "left", "baseline": "middle", "fontSize": 27, "lineBreak": "\n", "lineHeight": 32, "clip": false, "color": "black"},
   "encoding": {"x": {"datum": 686, "type": "quantitative", "axis": null}, "y": {"datum": 1.88, "type": "quantitative", "axis": null}, "text": {"value": "CO\nm/z: 28"}}}
 ],
 "resolve": {"axis": {"x": "independent", "y": "independent"}}},
{"width": 286, "height": 115, "data": {"name": "c_co"},
 "layer": [
  {"transform": [{"filter": "datum.s=='pristine'||datum.s=='thermal'"}], "mark": {"type": "line", "strokeWidth": 2, "interpolate": "monotone"},
   "encoding": {
    "x": {"field": "t", "type": "quantitative", "scale": {"domain": [28, 607], "nice": false, "zero": false}, "axis": {"orient": "bottom", "values": [50,100,150,200,250,300,350,400,450,500,550,600], "labels": false, "title": null, "offset": -4, "tickSize": {"condition": {"test": "datum.value % 100 == 0", "value": 8}, "value": 5}}},
    "y": {"field": "v", "type": "quantitative", "scale": {"type": "log", "domain": [0.24, 4.3], "nice": false}, "axis": {"orient": "left", "values": [0.3,0.4,0.5,0.6,0.7,0.8,0.9,1,2,3,4], "format": "~g", "labelExpr": "indexof([0.01,0.1,1,10], datum.value) >= 0 ? datum.label : ''", "labelPadding": 1, "offset": -4, "tickSize": {"condition": {"test": "indexof([0.01,0.1,1,10], datum.value) >= 0", "value": 8}, "value": 5}, "title": null}},
    "color": {"field": "s", "type": "nominal", "scale": {"domain": ["pristine","thermal","soaked","aged"], "range": ["#808080","#000000","#5b9bd5","#ee4d52"]}, "legend": null}}},
  {"transform": [{"filter": "datum.s=='soaked'||datum.s=='aged'"}], "mark": {"type": "line", "strokeWidth": 2, "interpolate": "monotone"},
   "encoding": {
    "x": {"field": "t", "type": "quantitative", "axis": null},
    "y": {"field": "v", "type": "quantitative", "axis": {"orient": "right", "values": [0.3,0.4,0.5,0.6,0.7,0.8,0.9,1,2,3,4], "labels": false, "title": null, "offset": -4, "tickSize": {"condition": {"test": "indexof([0.01,0.1,1,10], datum.value) >= 0", "value": 8}, "value": 5}}},
    "color": {"field": "s", "type": "nominal", "scale": {"domain": ["pristine","thermal","soaked","aged"], "range": ["#808080","#000000","#5b9bd5","#ee4d52"]}, "legend": null}}}
 ],
 "resolve": {"axis": {"x": "independent", "y": "independent"}}},

{"width": 286, "height": 115, "data": {"name": "a_co2"},
 "layer": [
  {"transform": [{"filter": "datum.s=='pristine'||datum.s=='thermal'"}], "mark": {"type": "line", "strokeWidth": 2, "interpolate": "monotone"},
   "encoding": {
    "x": {"field": "t", "type": "quantitative", "scale": {"domain": [28, 607], "nice": false, "zero": false}, "axis": {"orient": "bottom", "values": [50,100,150,200,250,300,350,400,450,500,550,600], "labels": false, "title": null, "offset": -4, "tickSize": {"condition": {"test": "datum.value % 100 == 0", "value": 8}, "value": 5}}},
    "y": {"field": "v", "type": "quantitative", "scale": {"type": "log", "domain": [0.0186, 2.1], "nice": false}, "axis": {"orient": "left", "values": [0.02,0.03,0.04,0.05,0.06,0.07,0.08,0.09,0.1,0.2,0.3,0.4,0.5,0.6,0.7,0.8,0.9,1,2], "format": "~g", "labelExpr": "indexof([0.01,0.1,1,10], datum.value) >= 0 ? datum.label : ''", "labelPadding": 1, "offset": -4, "tickSize": {"condition": {"test": "indexof([0.01,0.1,1,10], datum.value) >= 0", "value": 8}, "value": 5}, "title": null}},
    "color": {"field": "s", "type": "nominal", "scale": {"domain": ["pristine","thermal","soaked","aged"], "range": ["#808080","#000000","#5b9bd5","#ee4d52"]}, "legend": null}}},
  {"transform": [{"filter": "datum.s=='soaked'||datum.s=='aged'"}], "mark": {"type": "line", "strokeWidth": 2, "interpolate": "monotone"},
   "encoding": {
    "x": {"field": "t", "type": "quantitative", "axis": null},
    "y": {"field": "v", "type": "quantitative", "axis": {"orient": "right", "values": [0.02,0.03,0.04,0.05,0.06,0.07,0.08,0.09,0.1,0.2,0.3,0.4,0.5,0.6,0.7,0.8,0.9,1,2], "labels": false, "title": null, "offset": -4, "tickSize": {"condition": {"test": "indexof([0.01,0.1,1,10], datum.value) >= 0", "value": 8}, "value": 5}}},
    "color": {"field": "s", "type": "nominal", "scale": {"domain": ["pristine","thermal","soaked","aged"], "range": ["#808080","#000000","#5b9bd5","#ee4d52"]}, "legend": null}}},
  {"data": {"values": [{}]}, "mark": {"type": "text", "align": "left", "baseline": "middle", "fontSize": 27, "lineBreak": "\n", "lineHeight": 32, "clip": false, "color": "black"},
   "encoding": {"x": {"datum": 674, "type": "quantitative", "axis": null}, "y": {"datum": 0.519, "type": "quantitative", "axis": null}, "text": {"value": "CO₂\nm/z: 44"}}}
 ],
 "resolve": {"axis": {"x": "independent", "y": "independent"}}},
{"width": 286, "height": 115, "data": {"name": "b_co2"},
 "layer": [
  {"transform": [{"filter": "datum.s=='pristine'||datum.s=='thermal'"}], "mark": {"type": "line", "strokeWidth": 2, "interpolate": "monotone"},
   "encoding": {
    "x": {"field": "t", "type": "quantitative", "scale": {"domain": [28, 607], "nice": false, "zero": false}, "axis": {"orient": "bottom", "values": [50,100,150,200,250,300,350,400,450,500,550,600], "labels": false, "title": null, "offset": -4, "tickSize": {"condition": {"test": "datum.value % 100 == 0", "value": 8}, "value": 5}}},
    "y": {"field": "v", "type": "quantitative", "scale": {"type": "log", "domain": [0.0186, 2.1], "nice": false}, "axis": {"orient": "left", "values": [0.02,0.03,0.04,0.05,0.06,0.07,0.08,0.09,0.1,0.2,0.3,0.4,0.5,0.6,0.7,0.8,0.9,1,2], "format": "~g", "labelExpr": "indexof([0.01,0.1,1,10], datum.value) >= 0 ? datum.label : ''", "labelPadding": 1, "offset": -4, "tickSize": {"condition": {"test": "indexof([0.01,0.1,1,10], datum.value) >= 0", "value": 8}, "value": 5}, "title": null}},
    "color": {"field": "s", "type": "nominal", "scale": {"domain": ["pristine","thermal","soaked","aged"], "range": ["#808080","#000000","#5b9bd5","#ee4d52"]}, "legend": null}}},
  {"transform": [{"filter": "datum.s=='soaked'||datum.s=='aged'"}], "mark": {"type": "line", "strokeWidth": 2, "interpolate": "monotone"},
   "encoding": {
    "x": {"field": "t", "type": "quantitative", "axis": null},
    "y": {"field": "v", "type": "quantitative", "axis": {"orient": "right", "values": [0.02,0.03,0.04,0.05,0.06,0.07,0.08,0.09,0.1,0.2,0.3,0.4,0.5,0.6,0.7,0.8,0.9,1,2], "labels": false, "title": null, "offset": -4, "tickSize": {"condition": {"test": "indexof([0.01,0.1,1,10], datum.value) >= 0", "value": 8}, "value": 5}}},
    "color": {"field": "s", "type": "nominal", "scale": {"domain": ["pristine","thermal","soaked","aged"], "range": ["#808080","#000000","#5b9bd5","#ee4d52"]}, "legend": null}}},
  {"data": {"values": [{}]}, "mark": {"type": "text", "align": "left", "baseline": "middle", "fontSize": 27, "lineBreak": "\n", "lineHeight": 32, "clip": false, "color": "black"},
   "encoding": {"x": {"datum": 686, "type": "quantitative", "axis": null}, "y": {"datum": 0.519, "type": "quantitative", "axis": null}, "text": {"value": "CO₂\nm/z: 44"}}}
 ],
 "resolve": {"axis": {"x": "independent", "y": "independent"}}},
{"width": 286, "height": 115, "data": {"name": "c_co2"},
 "layer": [
  {"transform": [{"filter": "datum.s=='pristine'||datum.s=='thermal'"}], "mark": {"type": "line", "strokeWidth": 2, "interpolate": "monotone"},
   "encoding": {
    "x": {"field": "t", "type": "quantitative", "scale": {"domain": [28, 607], "nice": false, "zero": false}, "axis": {"orient": "bottom", "values": [50,100,150,200,250,300,350,400,450,500,550,600], "labels": false, "title": null, "offset": -4, "tickSize": {"condition": {"test": "datum.value % 100 == 0", "value": 8}, "value": 5}}},
    "y": {"field": "v", "type": "quantitative", "scale": {"type": "log", "domain": [0.9, 12.3], "nice": false}, "axis": {"orient": "left", "values": [0.9,1,2,3,4,5,6,7,8,9,10], "format": "~g", "labelExpr": "indexof([0.01,0.1,1,10], datum.value) >= 0 ? datum.label : ''", "labelFontWeight": "bold", "labelPadding": 1, "offset": -4, "tickSize": {"condition": {"test": "indexof([0.01,0.1,1,10], datum.value) >= 0", "value": 8}, "value": 5}, "title": null}},
    "color": {"field": "s", "type": "nominal", "scale": {"domain": ["pristine","thermal","soaked","aged"], "range": ["#808080","#000000","#5b9bd5","#ee4d52"]}, "legend": null}}},
  {"transform": [{"filter": "datum.s=='soaked'||datum.s=='aged'"}], "mark": {"type": "line", "strokeWidth": 2, "interpolate": "monotone"},
   "encoding": {
    "x": {"field": "t", "type": "quantitative", "axis": null},
    "y": {"field": "v", "type": "quantitative", "axis": {"orient": "right", "values": [0.9,1,2,3,4,5,6,7,8,9,10], "labels": false, "title": null, "offset": -4, "tickSize": {"condition": {"test": "indexof([0.01,0.1,1,10], datum.value) >= 0", "value": 8}, "value": 5}}},
    "color": {"field": "s", "type": "nominal", "scale": {"domain": ["pristine","thermal","soaked","aged"], "range": ["#808080","#000000","#5b9bd5","#ee4d52"]}, "legend": null}}}
 ],
 "resolve": {"axis": {"x": "independent", "y": "independent"}}},

{"width": 286, "height": 117, "data": {"name": "a_so2"},
 "layer": [
  {"transform": [{"filter": "datum.s=='pristine'||datum.s=='thermal'"}], "mark": {"type": "line", "strokeWidth": 2, "interpolate": "monotone"},
   "encoding": {
    "x": {"field": "t", "type": "quantitative", "scale": {"domain": [28, 607], "nice": false, "zero": false}, "axis": {"orient": "bottom", "values": [50,100,150,200,250,300,350,400,450,500,550,600], "format": "d", "labelExpr": "datum.value % 100 == 0 ? datum.label : ''", "labelPadding": 5, "title": "Temp / °C", "titleFontSize": 26, "titleFontWeight": "bold", "titlePadding": 12, "offset": -4, "tickSize": {"condition": {"test": "datum.value % 100 == 0", "value": 8}, "value": 5}}},
    "y": {"field": "v", "type": "quantitative", "scale": {"type": "log", "domain": [0.02, 0.5], "nice": false}, "axis": {"orient": "left", "values": [0.02,0.03,0.04,0.05,0.06,0.07,0.08,0.09,0.1,0.2,0.3,0.4,0.5], "format": "~g", "labelExpr": "indexof([0.01,0.1,1,10], datum.value) >= 0 ? datum.label : ''", "labelPadding": 1, "offset": -4, "tickSize": {"condition": {"test": "indexof([0.01,0.1,1,10], datum.value) >= 0", "value": 8}, "value": 5}, "title": null}},
    "color": {"field": "s", "type": "nominal", "scale": {"domain": ["pristine","thermal","soaked","aged"], "range": ["#808080","#000000","#5b9bd5","#ee4d52"]}, "legend": null}}},
  {"transform": [{"filter": "datum.s=='soaked'||datum.s=='aged'"}], "mark": {"type": "line", "strokeWidth": 2, "interpolate": "monotone"},
   "encoding": {
    "x": {"field": "t", "type": "quantitative", "axis": null},
    "y": {"field": "v", "type": "quantitative", "axis": {"orient": "right", "values": [0.02,0.03,0.04,0.05,0.06,0.07,0.08,0.09,0.1,0.2,0.3,0.4,0.5], "labels": false, "title": null, "offset": -4, "tickSize": {"condition": {"test": "indexof([0.01,0.1,1,10], datum.value) >= 0", "value": 8}, "value": 5}}},
    "color": {"field": "s", "type": "nominal", "scale": {"domain": ["pristine","thermal","soaked","aged"], "range": ["#808080","#000000","#5b9bd5","#ee4d52"]}, "legend": null}}},
  {"data": {"values": [{}]}, "mark": {"type": "text", "align": "left", "baseline": "middle", "fontSize": 27, "lineBreak": "\n", "lineHeight": 32, "clip": false, "color": "black"},
   "encoding": {"x": {"datum": 674, "type": "quantitative", "axis": null}, "y": {"datum": 0.181, "type": "quantitative", "axis": null}, "text": {"value": "SO₂\nm/z: 64"}}}
 ],
 "resolve": {"axis": {"x": "independent", "y": "independent"}}},
{"width": 286, "height": 117, "data": {"name": "b_so2"},
 "layer": [
  {"transform": [{"filter": "datum.s=='pristine'||datum.s=='thermal'"}], "mark": {"type": "line", "strokeWidth": 2, "interpolate": "monotone"},
   "encoding": {
    "x": {"field": "t", "type": "quantitative", "scale": {"domain": [28, 607], "nice": false, "zero": false}, "axis": {"orient": "bottom", "values": [50,100,150,200,250,300,350,400,450,500,550,600], "format": "d", "labelExpr": "datum.value % 100 == 0 ? datum.label : ''", "labelPadding": 5, "title": "Temp / °C", "titleFontSize": 26, "titleFontWeight": "bold", "titlePadding": 12, "offset": -4, "tickSize": {"condition": {"test": "datum.value % 100 == 0", "value": 8}, "value": 5}}},
    "y": {"field": "v", "type": "quantitative", "scale": {"type": "log", "domain": [0.02, 0.5], "nice": false}, "axis": {"orient": "left", "values": [0.02,0.03,0.04,0.05,0.06,0.07,0.08,0.09,0.1,0.2,0.3,0.4,0.5], "format": "~g", "labelExpr": "indexof([0.01,0.1,1,10], datum.value) >= 0 ? datum.label : ''", "labelPadding": 1, "offset": -4, "tickSize": {"condition": {"test": "indexof([0.01,0.1,1,10], datum.value) >= 0", "value": 8}, "value": 5}, "title": null}},
    "color": {"field": "s", "type": "nominal", "scale": {"domain": ["pristine","thermal","soaked","aged"], "range": ["#808080","#000000","#5b9bd5","#ee4d52"]}, "legend": null}}},
  {"transform": [{"filter": "datum.s=='soaked'||datum.s=='aged'"}], "mark": {"type": "line", "strokeWidth": 2, "interpolate": "monotone"},
   "encoding": {
    "x": {"field": "t", "type": "quantitative", "axis": null},
    "y": {"field": "v", "type": "quantitative", "axis": {"orient": "right", "values": [0.02,0.03,0.04,0.05,0.06,0.07,0.08,0.09,0.1,0.2,0.3,0.4,0.5], "labels": false, "title": null, "offset": -4, "tickSize": {"condition": {"test": "indexof([0.01,0.1,1,10], datum.value) >= 0", "value": 8}, "value": 5}}},
    "color": {"field": "s", "type": "nominal", "scale": {"domain": ["pristine","thermal","soaked","aged"], "range": ["#808080","#000000","#5b9bd5","#ee4d52"]}, "legend": null}}},
  {"data": {"values": [{}]}, "mark": {"type": "text", "align": "left", "baseline": "middle", "fontSize": 27, "lineBreak": "\n", "lineHeight": 32, "clip": false, "color": "black"},
   "encoding": {"x": {"datum": 686, "type": "quantitative", "axis": null}, "y": {"datum": 0.181, "type": "quantitative", "axis": null}, "text": {"value": "SO₂\nm/z: 64"}}}
 ],
 "resolve": {"axis": {"x": "independent", "y": "independent"}}},
{"width": 286, "height": 117, "data": {"name": "c_so2"},
 "layer": [
  {"transform": [{"filter": "datum.s=='pristine'||datum.s=='thermal'"}], "mark": {"type": "line", "strokeWidth": 2, "interpolate": "monotone"},
   "encoding": {
    "x": {"field": "t", "type": "quantitative", "scale": {"domain": [28, 607], "nice": false, "zero": false}, "axis": {"orient": "bottom", "values": [50,100,150,200,250,300,350,400,450,500,550,600], "format": "d", "labelExpr": "datum.value % 100 == 0 ? datum.label : ''", "labelPadding": 5, "title": "Temp / °C", "titleFontSize": 26, "titleFontWeight": "bold", "titlePadding": 12, "offset": -4, "tickSize": {"condition": {"test": "datum.value % 100 == 0", "value": 8}, "value": 5}}},
    "y": {"field": "v", "type": "quantitative", "scale": {"type": "log", "domain": [0.02, 0.5], "nice": false}, "axis": {"orient": "left", "values": [0.02,0.03,0.04,0.05,0.06,0.07,0.08,0.09,0.1,0.2,0.3,0.4,0.5], "format": "~g", "labelExpr": "indexof([0.01,0.1,1,10], datum.value) >= 0 ? datum.label : ''", "labelPadding": 1, "offset": -4, "tickSize": {"condition": {"test": "indexof([0.01,0.1,1,10], datum.value) >= 0", "value": 8}, "value": 5}, "title": null}},
    "color": {"field": "s", "type": "nominal", "scale": {"domain": ["pristine","thermal","soaked","aged"], "range": ["#808080","#000000","#5b9bd5","#ee4d52"]}, "legend": null}}},
  {"transform": [{"filter": "datum.s=='soaked'||datum.s=='aged'"}], "mark": {"type": "line", "strokeWidth": 2, "interpolate": "monotone"},
   "encoding": {
    "x": {"field": "t", "type": "quantitative", "axis": null},
    "y": {"field": "v", "type": "quantitative", "axis": {"orient": "right", "values": [0.02,0.03,0.04,0.05,0.06,0.07,0.08,0.09,0.1,0.2,0.3,0.4,0.5], "labels": false, "title": null, "offset": -4, "tickSize": {"condition": {"test": "indexof([0.01,0.1,1,10], datum.value) >= 0", "value": 8}, "value": 5}}},
    "color": {"field": "s", "type": "nominal", "scale": {"domain": ["pristine","thermal","soaked","aged"], "range": ["#808080","#000000","#5b9bd5","#ee4d52"]}, "legend": null}}}
 ],
 "resolve": {"axis": {"x": "independent", "y": "independent"}}}
]
}
